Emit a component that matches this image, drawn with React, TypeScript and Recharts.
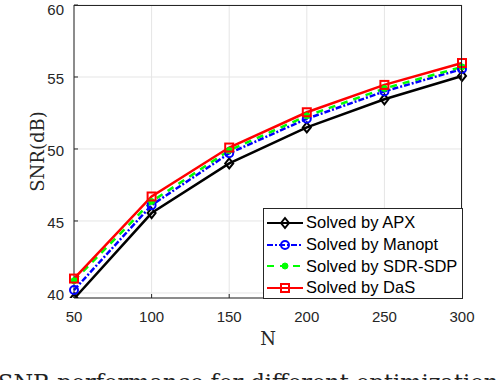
import React from 'react';
import {
  LineChart,
  Line,
  XAxis,
  YAxis,
  CartesianGrid,
} from 'recharts';

const nValues = [50, 100, 150, 200, 250, 300];
const apx = [39.6, 45.55, 49.0, 51.5, 53.45, 55.07];
const manopt = [40.2, 46.1, 49.7, 52.1, 54.0, 55.55];
const sdrSdp = [40.85, 46.35, 49.9, 52.3, 54.2, 55.7];
const das = [41.0, 46.7, 50.1, 52.55, 54.45, 55.97];
const xTicks = [50, 100, 150, 200, 250, 300];
const yTicks = [40, 45, 50, 55, 60];

const data = nValues.map((n, i) => ({
  n,
  apx: apx[i],
  manopt: manopt[i],
  sdr: sdrSdp[i],
  das: das[i],
}));

const tickFont = { fontFamily: 'Liberation Sans, Arial, sans-serif', fontSize: 15, fill: '#262626' };
const axisColor = '#262626';

const Diamond = (props: any) => {
  const { cx, cy, stroke } = props;
  if (cx == null || cy == null) return null;
  return (
    <polygon
      points={`${cx},${cy - 5} ${cx + 4},${cy} ${cx},${cy + 5} ${cx - 4},${cy}`}
      fill="none"
      stroke={stroke}
      strokeWidth={2}
    />
  );
};

const Circle = (props: any) => {
  const { cx, cy, stroke } = props;
  if (cx == null || cy == null) return null;
  return <circle cx={cx} cy={cy} r={4} fill="none" stroke={stroke} strokeWidth={2} />;
};

const Dot = (props: any) => {
  const { cx, cy, stroke } = props;
  if (cx == null || cy == null) return null;
  return <circle cx={cx} cy={cy} r={3} fill={stroke} stroke={stroke} />;
};

const Square = (props: any) => {
  const { cx, cy, stroke } = props;
  if (cx == null || cy == null) return null;
  return <rect x={cx - 4} y={cy - 4} width={8} height={8} fill="none" stroke={stroke} strokeWidth={2} />;
};

const legendItems = [
  { name: 'Solved by APX', color: '#000000', dash: undefined, marker: 'diamond' },
  { name: 'Solved by Manopt', color: '#0000ff', dash: '6 2 2 2', marker: 'circle' },
  { name: 'Solved by SDR-SDP', color: '#00ff00', dash: '7 6', marker: 'dot' },
  { name: 'Solved by DaS', color: '#ff0000', dash: undefined, marker: 'square' },
];

const LegendBox = () => (
  <div
    style={{
      position: 'absolute',
      left: 263,
      top: 208,
      width: 200,
      height: 91,
      border: '1px solid #262626',
      background: '#fff',
      boxSizing: 'border-box',
      padding: '3px 0 0 1px',
    }}
  >
    {legendItems.map((it) => (
      <div key={it.name} style={{ display: 'flex', alignItems: 'center', height: 21.7 }}>
        <svg width={40} height={14}>
          <line x1={2} y1={7} x2={38} y2={7} stroke={it.color} strokeWidth={2} strokeDasharray={it.dash} />
          {it.marker === 'diamond' && <Diamond cx={20} cy={7} stroke={it.color} />}
          {it.marker === 'circle' && <Circle cx={20} cy={7} stroke={it.color} />}
          {it.marker === 'dot' && <Dot cx={20} cy={7} stroke={it.color} />}
          {it.marker === 'square' && <Square cx={20} cy={7} stroke={it.color} />}
        </svg>
        <span style={{ fontFamily: 'Liberation Sans, Arial, sans-serif', fontSize: 16.5, color: '#000', marginLeft: 1 }}>
          {it.name}
        </span>
      </div>
    ))}
  </div>
);

const App: React.FC = () => {
  return (
    <div style={{ position: 'absolute', left: 0, top: 0, width: 500, height: 380, overflow: 'hidden', background: '#fff' }}>
      <LineChart
        width={500}
        height={380}
        data={data}
        margin={{ top: 5, right: 38, left: 24, bottom: 52 }}
      >
        <CartesianGrid stroke="#e5e5e5" strokeWidth={1} />
        <XAxis
          dataKey="n"
          type="number"
          domain={[50, 300]}
          ticks={xTicks}
          tick={tickFont}
          stroke={axisColor}
          tickSize={-4}
          tickMargin={17}
          height={30}
          label={{ value: 'N', position: 'insideBottom', offset: -17, style: { fontFamily: 'DejaVu Serif, serif', fontSize: 18, fill: '#262626' } }}
        />
        <YAxis
          type="number"
          domain={[39.65, 60]}
          ticks={yTicks}
          tick={{ ...tickFont, dy: 1.5 }}
          stroke={axisColor}
          tickSize={-4}
          tickMargin={14}
          width={50}
          allowDataOverflow
          label={{ value: 'SNR(dB)', angle: -90, position: 'insideLeft', offset: 14, style: { textAnchor: 'middle', fontFamily: 'DejaVu Serif, serif', fontSize: 18, fill: '#262626' } }}
        />
        <Line
          dataKey="apx"
          stroke="#000000"
          strokeWidth={2.5}
          dot={<Diamond />}
          isAnimationActive={false}
        />
        <Line
          dataKey="manopt"
          stroke="#0000ff"
          strokeWidth={2.5}
          strokeDasharray="6 2 2 2"
          dot={<Circle />}
          isAnimationActive={false}
        />
        <Line
          dataKey="sdr"
          stroke="#00ff00"
          strokeWidth={2.5}
          strokeDasharray="7 6"
          dot={<Dot />}
          isAnimationActive={false}
        />
        <Line
          dataKey="das"
          stroke="#ff0000"
          strokeWidth={2.5}
          dot={<Square />}
          isAnimationActive={false}
        />
      </LineChart>
      {/* top and right edges of the axes box */}
      <div
        style={{
          position: 'absolute',
          left: 74,
          top: 5,
          width: 388,
          height: 293,
          borderTop: '1px solid #262626',
          borderRight: '1px solid #262626',
          boxSizing: 'border-box',
          pointerEvents: 'none',
        }}
      />
      <LegendBox />
      <div
        style={{
          position: 'absolute',
          left: -2,
          top: 369,
          fontFamily: 'DejaVu Serif, serif',
          fontSize: 22.5,
          color: '#222',
          whiteSpace: 'nowrap',
        }}
      >
        SNR performance for different optimization
      </div>
    </div>
  );
};

export default App;
